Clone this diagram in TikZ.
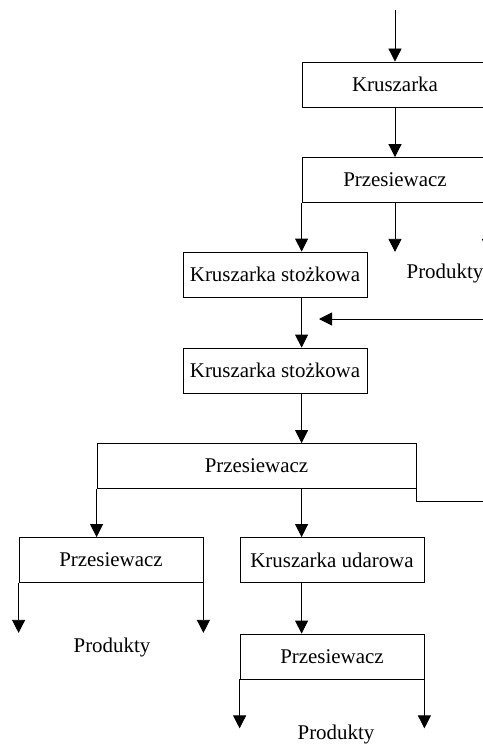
\documentclass[tikz,border=0pt]{standalone}
\usepackage{fontspec}
\setmainfont{Liberation Serif}
\usetikzlibrary{arrows.meta}

\tikzset{
  box/.style={draw, line width=0.8bp, minimum height=45bp, inner sep=0pt, font=\fontsize{21}{25}\selectfont},
  lab/.style={font=\fontsize{21}{25}\selectfont},
  flow/.style={line width=0.8bp, -{Triangle[length=13bp,width=13bp]}},
  rline/.style={line width=0.8bp}
}

\begin{document}
\begin{tikzpicture}[x=1bp,y=-1bp]
\useasboundingbox (0,0) rectangle (483,745);
\clip (0,0) rectangle (483,745);

% Boxes
\node[box, minimum width=186bp] (kr) at (395,84.5) {Kruszarka};
\node[box, minimum width=186bp] (prz1) at (395,180) {Przesiewacz};
\node[box, minimum width=184bp] (ks1) at (275,274.5) {Kruszarka stożkowa};
\node[box, minimum width=184bp] (ks2) at (275,370.5) {Kruszarka stożkowa};
\node[box, minimum width=319bp] (prz2) at (256.5,466) {Przesiewacz};
\node[box, minimum width=184bp] (prz3) at (111,560) {Przesiewacz};
\node[box, minimum width=184bp] (ku) at (332,560) {Kruszarka udarowa};
\node[box, minimum width=184bp] (prz4) at (332,656.5) {Przesiewacz};

% Labels
\node[lab] (prod1) at (445,273) {Produkty};
\node[lab] (prod2) at (112,647) {Produkty};
\node[lab] (prod3) at (336,734) {Produkty};

% Feed and return points
\coordinate (feed) at (395,10);
\coordinate (ret) at (490,319);
\coordinate (rettip) at (319,319);
\coordinate (retout) at (490,501.5);

% Flow
\draw[flow] (feed) -- (kr.north);
\draw[flow] (kr) -- (prz1);
\draw[flow] (prz1.south west) -- (prz1.south west |- ks1.north);
\draw[flow] (prz1.south) -- ++(0,49);
\draw[flow] (prz1.south east) -- ++(0,49);
\draw[flow] (prz1.south west |- ks1.south) -- (prz1.south west |- ks2.north);
\draw[flow] (ret) -- (rettip);
\draw[flow] (prz1.south west |- ks2.south) -- (prz1.south west |- prz2.north);
\draw[rline] (prz2.south east) -- (prz2.south east |- retout) -- (retout);
\draw[flow] (prz2.south west) -- (prz2.south west |- prz3.north);
\draw[flow] (prz1.south west |- prz2.south) -- (prz1.south west |- ku.north);
\draw[flow] (prz3.south west) -- ++(0,50);
\draw[flow] (prz3.south east) -- ++(0,50);
\draw[flow] (prz1.south west |- ku.south) -- (prz1.south west |- prz4.north);
\draw[flow] (prz4.south west) -- ++(0,49);
\draw[flow] (prz4.south east) -- ++(0,49);
\end{tikzpicture}
\end{document}
